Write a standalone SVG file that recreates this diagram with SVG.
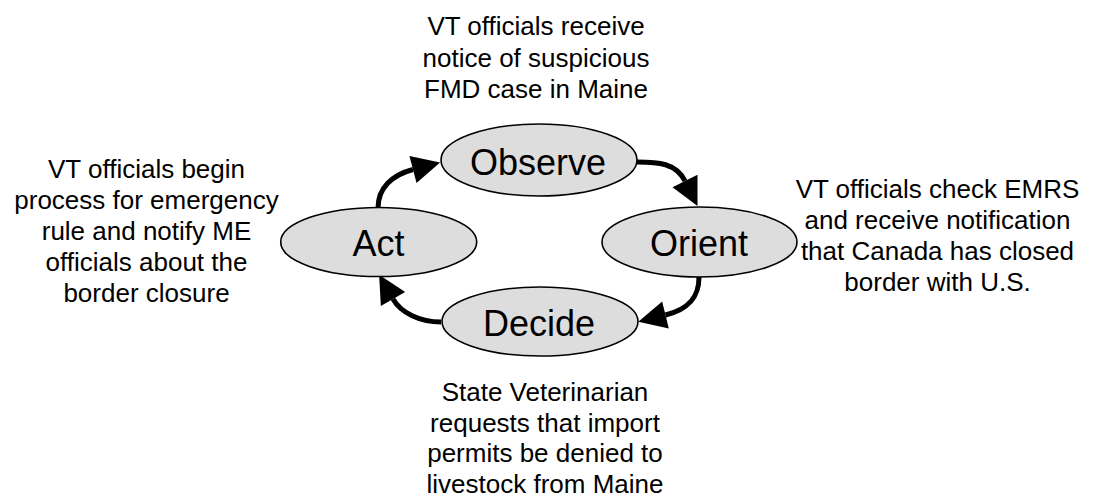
<svg xmlns="http://www.w3.org/2000/svg" width="1094" height="499" viewBox="0 0 1094 499">
  <style>
    .node ellipse { fill: #dddddd; stroke: #000000; stroke-width: 1.6; }
    .node text { font-family: "Liberation Sans", Arial, sans-serif; font-size: 36px; text-anchor: middle; fill: #000000; }
    .note { font-family: "Liberation Sans", Arial, sans-serif; font-size: 26px; text-anchor: middle; fill: #000000; }
    .link { fill: none; stroke: #000000; stroke-width: 5; marker-end: url(#head); }
  </style>
  <defs>
    <marker id="head" markerUnits="userSpaceOnUse" markerWidth="30" markerHeight="30" refX="0" refY="14" orient="auto" overflow="visible">
      <path d="M0,0 L28,14 L0,28 Z" fill="#000000"/>
    </marker>
  </defs>
  <rect width="1094" height="499" fill="#ffffff"/>

  <!-- cycle connectors -->
  <g id="connectors">
    <path class="link" d="M378,208 C378,188 392,175 413,169.5"/>
    <path class="link" d="M637,162 C658,162 676,163 685,181"/>
    <path class="link" d="M699,277 C699,296 690,309 665.5,315"/>
    <path class="link" d="M441,322 C420,322 401,313 393,299"/>
  </g>

  <g id="observe" class="node">
    <ellipse cx="539" cy="160" rx="98" ry="36"/>
    <text x="538" y="175">Observe</text>
  </g>
  <g id="orient" class="node">
    <ellipse cx="699.5" cy="242" rx="97.5" ry="35"/>
    <text x="699" y="256">Orient</text>
  </g>
  <g id="decide" class="node">
    <ellipse cx="540" cy="321.5" rx="98" ry="34.5"/>
    <text x="539" y="336">Decide</text>
  </g>
  <g id="act" class="node">
    <ellipse cx="378.7" cy="242" rx="98" ry="34.5"/>
    <text x="378.5" y="256">Act</text>
  </g>

  <!-- annotations -->
  <g id="note-observe">
    <text class="note" x="536" y="35">VT officials receive</text>
    <text class="note" x="536" y="66.5">notice of suspicious</text>
    <text class="note" x="536" y="98">FMD case in Maine</text>
  </g>
  <g id="note-orient">
    <text class="note" x="937.5" y="198">VT officials check EMRS</text>
    <text class="note" x="937.5" y="229">and receive notification</text>
    <text class="note" x="937.5" y="260">that Canada has closed</text>
    <text class="note" x="937.5" y="291">border with U.S.</text>
  </g>
  <g id="note-decide">
    <text class="note" x="545" y="401">State Veterinarian</text>
    <text class="note" x="545" y="431.5">requests that import</text>
    <text class="note" x="545" y="462">permits be denied to</text>
    <text class="note" x="545" y="492.5">livestock from Maine</text>
  </g>
  <g id="note-act">
    <text class="note" x="146.5" y="178">VT officials begin</text>
    <text class="note" x="146.5" y="209">process for emergency</text>
    <text class="note" x="146.5" y="240">rule and notify ME</text>
    <text class="note" x="146.5" y="271">officials about the</text>
    <text class="note" x="146.5" y="302">border closure</text>
  </g>
</svg>
